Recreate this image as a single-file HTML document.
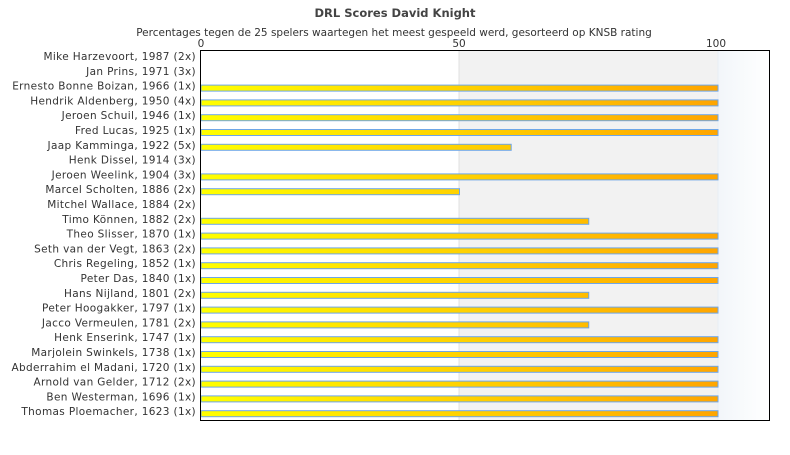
<!DOCTYPE html>
<html><head><meta charset="utf-8"><style>
body{margin:0;background:#fff;}
text{font-family:"DejaVu Sans","Liberation Sans",sans-serif;}
</style></head><body>
<svg width="790" height="450" xmlns="http://www.w3.org/2000/svg">
<defs>
<linearGradient id="bg" x1="0" x2="1"><stop offset="0" stop-color="#f2f6fa"/><stop offset="1" stop-color="#fff"/></linearGradient>
<linearGradient id="bar" gradientUnits="userSpaceOnUse" x1="201" x2="718" y1="0" y2="0"><stop offset="0" stop-color="#ffff00"/><stop offset="1" stop-color="#ffa500"/></linearGradient>
</defs>
<text x="395" y="17" text-anchor="middle" font-size="11.5" font-weight="bold" fill="#444">DRL Scores David Knight</text>
<text x="394" y="36" text-anchor="middle" font-size="10.5" fill="#333">Percentages tegen de 25 spelers waartegen het meest gespeeld werd, gesorteerd op KNSB rating</text>
<text x="201" y="47" text-anchor="middle" font-size="10.5" fill="#333">0</text>
<text x="459" y="47" text-anchor="middle" font-size="10.5" fill="#333">50</text>
<text x="716" y="47" text-anchor="middle" font-size="10.5" fill="#333">100</text>
<rect x="459" y="50" width="259" height="370" fill="#f2f2f2"/>
<rect x="718" y="50" width="52" height="370" fill="url(#bg)"/>
<line x1="459" y1="50" x2="459" y2="420" stroke="#e0e0e0"/>
<line x1="718" y1="50" x2="718" y2="420" stroke="#e8eef4"/>
<g font-size="10.5" fill="#333" text-anchor="end" letter-spacing="0.35">
<text x="196" y="60">Mike Harzevoort, 1987 (2x)</text>
<text x="196" y="74.8">Jan Prins, 1971 (3x)</text>
<text x="196" y="89.6">Ernesto Bonne Boizan, 1966 (1x)</text>
<text x="196" y="104.4">Hendrik Aldenberg, 1950 (4x)</text>
<text x="196" y="119.2">Jeroen Schuil, 1946 (1x)</text>
<text x="196" y="134">Fred Lucas, 1925 (1x)</text>
<text x="196" y="148.8">Jaap Kamminga, 1922 (5x)</text>
<text x="196" y="163.6">Henk Dissel, 1914 (3x)</text>
<text x="196" y="178.4">Jeroen Weelink, 1904 (3x)</text>
<text x="196" y="193.2">Marcel Scholten, 1886 (2x)</text>
<text x="196" y="208">Mitchel Wallace, 1884 (2x)</text>
<text x="196" y="222.8">Timo Können, 1882 (2x)</text>
<text x="196" y="237.6">Theo Slisser, 1870 (1x)</text>
<text x="196" y="252.4">Seth van der Vegt, 1863 (2x)</text>
<text x="196" y="267.2">Chris Regeling, 1852 (1x)</text>
<text x="196" y="282">Peter Das, 1840 (1x)</text>
<text x="196" y="296.8">Hans Nijland, 1801 (2x)</text>
<text x="196" y="311.6">Peter Hoogakker, 1797 (1x)</text>
<text x="196" y="326.4">Jacco Vermeulen, 1781 (2x)</text>
<text x="196" y="341.2">Henk Enserink, 1747 (1x)</text>
<text x="196" y="356">Marjolein Swinkels, 1738 (1x)</text>
<text x="196" y="370.8">Abderrahim el Madani, 1720 (1x)</text>
<text x="196" y="385.6">Arnold van Gelder, 1712 (2x)</text>
<text x="196" y="400.4">Ben Westerman, 1696 (1x)</text>
<text x="196" y="415.2">Thomas Ploemacher, 1623 (1x)</text>
</g>
<g fill="url(#bar)" stroke="#6ea6e8" stroke-width="1">
<rect x="201" y="85.1" width="517" height="6"/>
<rect x="201" y="99.9" width="517" height="6"/>
<rect x="201" y="114.7" width="517" height="6"/>
<rect x="201" y="129.5" width="517" height="6"/>
<rect x="201" y="144.3" width="310.2" height="6"/>
<rect x="201" y="173.9" width="517" height="6"/>
<rect x="201" y="188.7" width="258.5" height="6"/>
<rect x="201" y="218.3" width="387.75" height="6"/>
<rect x="201" y="233.1" width="517" height="6"/>
<rect x="201" y="247.9" width="517" height="6"/>
<rect x="201" y="262.7" width="517" height="6"/>
<rect x="201" y="277.5" width="517" height="6"/>
<rect x="201" y="292.3" width="387.75" height="6"/>
<rect x="201" y="307.1" width="517" height="6"/>
<rect x="201" y="321.9" width="387.75" height="6"/>
<rect x="201" y="336.7" width="517" height="6"/>
<rect x="201" y="351.5" width="517" height="6"/>
<rect x="201" y="366.3" width="517" height="6"/>
<rect x="201" y="381.1" width="517" height="6"/>
<rect x="201" y="395.9" width="517" height="6"/>
<rect x="201" y="410.7" width="517" height="6"/>
</g>
<rect x="200.5" y="50.5" width="569" height="370" fill="none" stroke="#000"/>
</svg>
</body></html>
